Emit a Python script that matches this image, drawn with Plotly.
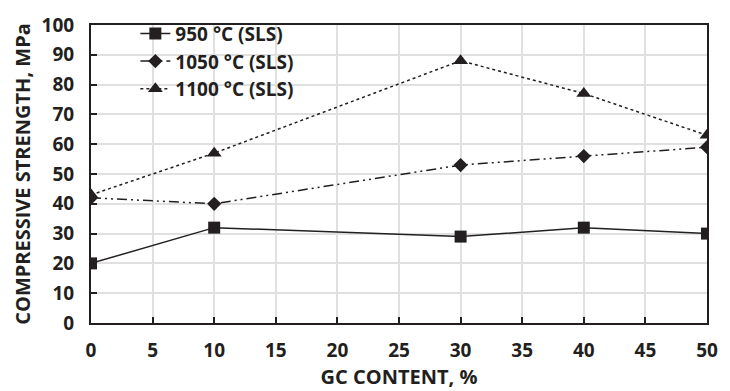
import plotly.graph_objects as go

gc_content = [0, 10, 30, 40, 50]
s950 = [20, 32, 29, 32, 30]
s1050 = [42, 40, 53, 56, 59]
s1100 = [43, 57, 88, 77, 63]
names = ["950 °C (SLS)", "1050 °C (SLS)", "1100 °C (SLS)"]

C = "#231f20"
FONT = "Open Sans"
BOLD = dict(family=FONT, size=19, color=C, weight="bold")

fig = go.Figure()
fig.add_trace(go.Scatter(x=gc_content, y=s950, name=names[0], mode="lines+markers",
                         line=dict(color=C, width=1.5),
                         marker=dict(symbol="square", size=12, color=C)))
fig.add_trace(go.Scatter(x=gc_content, y=s1050, name=names[1], mode="lines+markers",
                         line=dict(color=C, width=1.5, dash="10px,4px,2px,4px,2px,4px"),
                         marker=dict(symbol="diamond", size=11, color=C)))
fig.add_trace(go.Scatter(x=gc_content, y=s1100, name=names[2], mode="lines+markers",
                         line=dict(color=C, width=1.5, dash="dot"),
                         marker=dict(symbol="triangle-up", size=13, color=C)))

axis_common = dict(showline=True, linecolor=C, linewidth=2, mirror=True,
                   showgrid=True, gridcolor="#e0e0e0", gridwidth=1.5,
                   zeroline=False, ticks="inside", ticklen=6, tickcolor=C, tickwidth=1.5,
                   tickfont=BOLD)

fig.update_xaxes(range=[0, 50], dtick=5, tick0=0, ticklabelstandoff=9,
                 title=dict(text="GC CONTENT, %", font=dict(BOLD, size=20), standoff=2),
                 **axis_common)
fig.update_yaxes(range=[0, 100], dtick=10, tick0=0, ticklabelstandoff=11,
                 title=dict(text="COMPRESSIVE STRENGTH, MPa", font=dict(BOLD, size=20), standoff=6),
                 **axis_common)

fig.update_layout(
    width=730, height=391,
    margin=dict(l=91, r=13, t=18, b=63),
    plot_bgcolor="white", paper_bgcolor="white",
    font=dict(family=FONT, color=C),
    legend=dict(x=0.072, y=1.035, xanchor="left", yanchor="top",
                bgcolor="rgba(255,255,255,0)", borderwidth=0,
                font=dict(BOLD, size=19),
                tracegroupgap=0),
    showlegend=True,
)

fig.write_html("out.html", config={"displayModeBar": False},
               post_script="document.body.style.margin='0';")
